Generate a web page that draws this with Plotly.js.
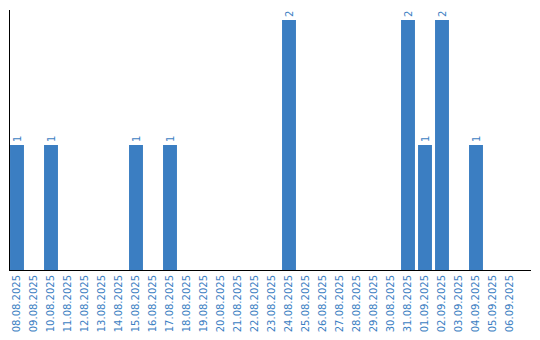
<!DOCTYPE html>
<html><head><meta charset="utf-8">
<script src="https://cdn.plot.ly/plotly-3.0.1.min.js"></script>
<style>html,body{margin:0;padding:0;background:#fff}#c{width:540px;height:340px}</style>
</head><body><div id="c"></div>
<script>
const dates = ["08.08.2025","09.08.2025","10.08.2025","11.08.2025","12.08.2025","13.08.2025","14.08.2025","15.08.2025","16.08.2025","17.08.2025","18.08.2025","19.08.2025","20.08.2025","21.08.2025","22.08.2025","23.08.2025","24.08.2025","25.08.2025","26.08.2025","27.08.2025","28.08.2025","29.08.2025","30.08.2025","31.08.2025","01.09.2025","02.09.2025","03.09.2025","04.09.2025","05.09.2025","06.09.2025"];
const counts = [1,0,1,0,0,0,0,1,0,1,0,0,0,0,0,0,2,0,0,0,0,0,0,2,1,2,0,1,0,0];
const labels = counts.map(v => v > 0 ? String(v) : "");
const blue = "#3b7ec2";
const fam = "DejaVu Sans, Verdana, sans-serif";
Plotly.newPlot("c", [{
  type: "bar", x: dates, y: counts, text: labels,
  textposition: "outside", textangle: -90, cliponaxis: false,
  textfont: {family: fam, size: 10, color: blue},
  marker: {color: blue}, width: 0.82, hoverinfo: "none"
}], {
  width: 540, height: 340,
  font: {family: fam, size: 10, color: blue},
  margin: {l: 10, r: 9, t: 10, b: 70, pad: 0},
  paper_bgcolor: "#fff", plot_bgcolor: "#fff",
  showlegend: false,
  xaxis: {type: "category", range: [-0.412, 30.235], tickangle: -90,
    showline: true, linecolor: "#000", linewidth: 1, showgrid: false, zeroline: false,
    ticks: "", ticklen: 0, tickfont: {family: fam, size: 10, color: blue}, automargin: false},
  yaxis: {range: [0, 2.08], showline: true, linecolor: "#000", linewidth: 1,
    showgrid: false, zeroline: false, showticklabels: false, ticks: "", automargin: false}
}, {displayModeBar: false, staticPlot: true});
</script></body></html>
